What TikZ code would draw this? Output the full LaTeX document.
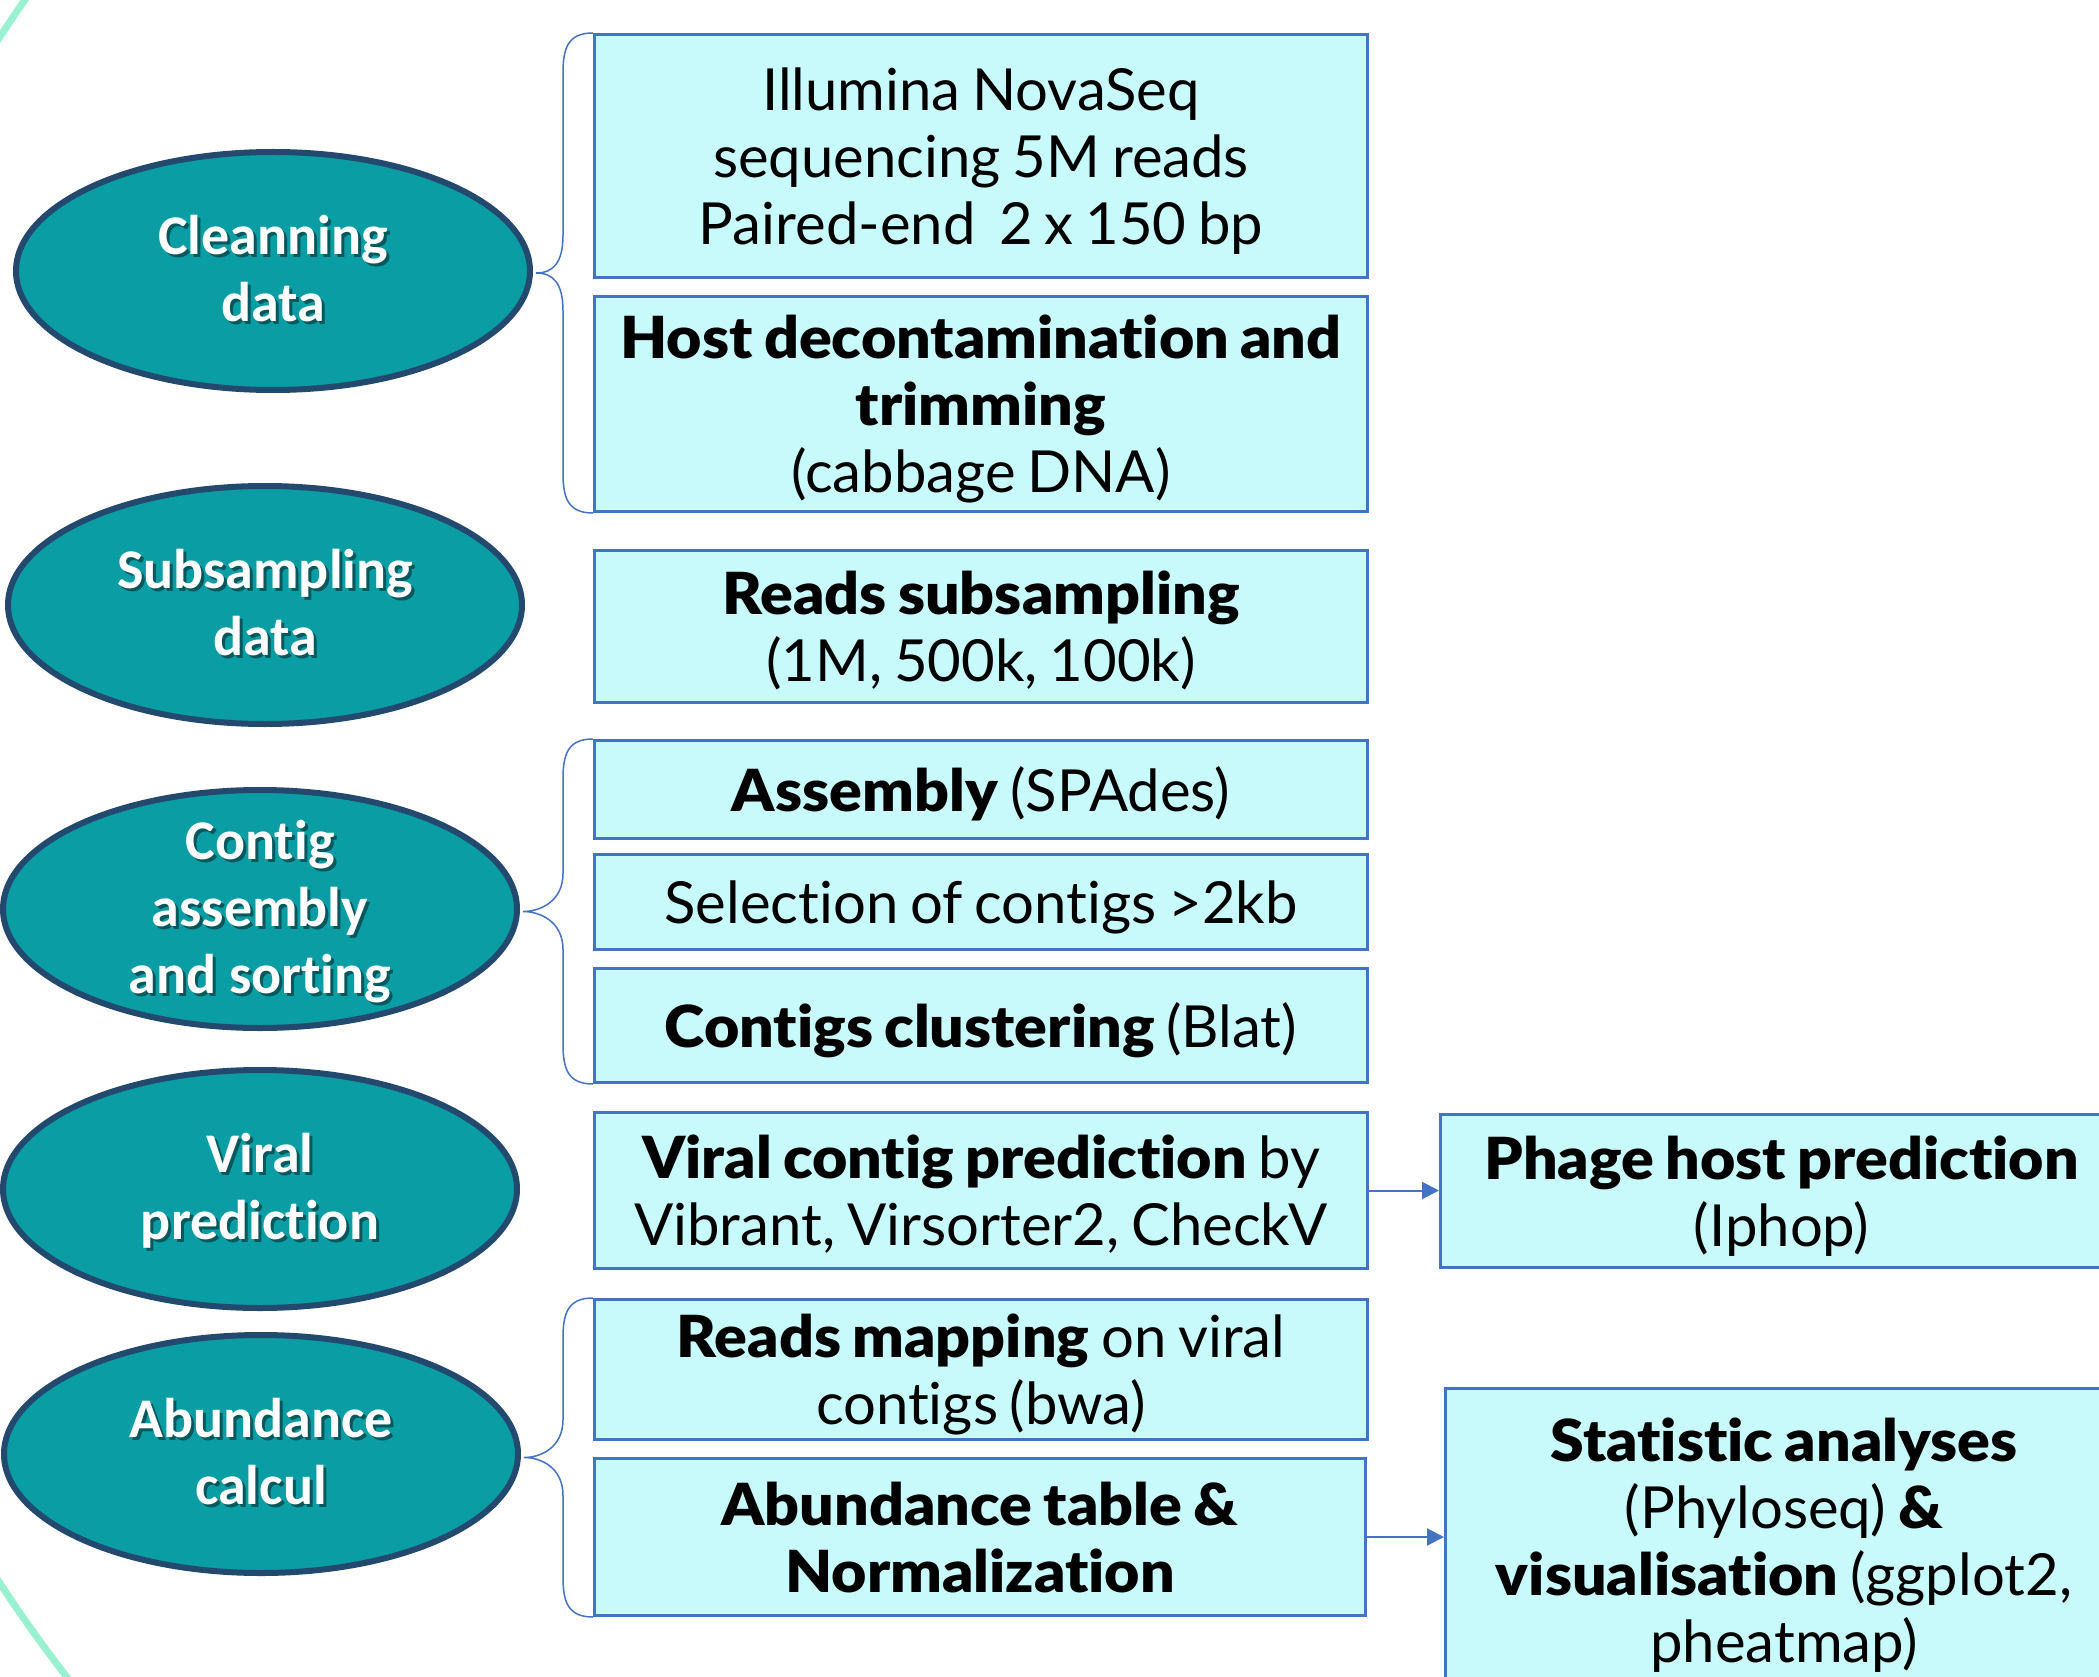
\documentclass[tikz,border=0pt]{standalone}
\usepackage{fontspec}
\setmainfont{Lato}[BoldFont={Lato Black}, BoldFeatures={FakeStretch=1.05}, Ligatures=NoCommon, WordSpace=0.8]
\newfontfamily\ellfont{Carlito}[Ligatures=NoCommon]
\usetikzlibrary{shapes.geometric,arrows.meta,calc}
\definecolor{teal1}{HTML}{0A9DA3}
\definecolor{navy1}{HTML}{234A6E}
\definecolor{boxfill}{HTML}{C8F9FB}
\definecolor{boxline}{HTML}{4472C4}
\definecolor{mint}{HTML}{9AF1D2}
\definecolor{shade}{HTML}{06585C}
\newcommand\elltab[1]{\begin{tabular}{@{}c@{}}#1\end{tabular}}
\newcommand\elltxt[1]{\smash{\raisebox{-10pt}{\makebox[0pt]{\raisebox{-3pt}{\hspace{6pt}\textcolor{shade}{\elltab{#1}}}}\makebox[0pt]{\textcolor{white}{\elltab{#1}}}}}}
\tikzset{
  ell/.style={ellipse, draw=navy1, line width=6pt, fill=teal1, inner sep=0pt,
    minimum width=514pt, minimum height=238pt,
    font=\ellfont\bfseries\fontsize{56}{67}\selectfont},
  stepbox/.style={rectangle, draw=boxline, line width=3pt, fill=boxfill, inner sep=0pt,
    align=center, font=\fontsize{58}{67}\selectfont, text depth=0pt},
  arr/.style={draw=boxline, line width=2pt, -{Triangle[length=17pt,width=17pt]}},
  bracel/.style={draw=boxline, line width=1.5pt},
}
\newcommand\bracedraw[3]{%
  \draw[bracel] let \p1=(#1), \p3=(#3), \p2=(#2) in
    (\p1) .. controls (\x1-25pt,\y1) and (\x1-30pt,\y1-15pt) .. (\x1-30pt,\y1-40pt)
    -- (\x1-30pt,{(\y1+\y3)/2+38pt})
    .. controls (\x1-30pt,{(\y1+\y3)/2+10pt}) and (\x2+20pt,{(\y1+\y3)/2}) .. (\x2+3pt,{(\y1+\y3)/2})
    .. controls (\x2+20pt,{(\y1+\y3)/2}) and (\x1-30pt,{(\y1+\y3)/2-10pt}) .. (\x1-30pt,{(\y1+\y3)/2-38pt})
    -- (\x1-30pt,\y3+40pt)
    .. controls (\x1-30pt,\y3+15pt) and (\x1-25pt,\y3) .. (\p3);}
\begin{document}
\begin{tikzpicture}[x=1pt,y=-1pt]
\useasboundingbox (0,0) rectangle (2099,1677);
\clip (0,0) rectangle (2099,1677);
\fill[white] (0,0) rectangle (2099,1677);
\draw[mint, line width=7pt] (1184,810) circle[radius=1414];

% ellipses
\node[ell] (e1) at (273,271) {\elltxt{Cleanning\\data}};
\node[ell] (e2) at (265,605) {\elltxt{Subsampling\\data}};
\node[ell] (e3) at (260,909) {\elltxt{Contig\\assembly\\and sorting}};
\node[ell] (e4) at (260,1189) {\elltxt{Viral\\prediction}};
\node[ell] (e5) at (261,1454) {\elltxt{Abundance\\calcul}};

% boxes
\node[stepbox, minimum width=773pt, minimum height=243pt] (b1) at (981,156)
  {Illumina NovaSeq\\sequencing 5M reads\\Paired-end\ \ 2 x 150 bp};
\node[stepbox, minimum width=773pt, minimum height=215pt] (b2) at (981,404)
  {\textbf{Host decontamination and}\\\textbf{trimming}\\(cabbage DNA)};
\node[stepbox, minimum width=773pt, minimum height=152pt] (b3) at (981,626.5)
  {\textbf{Reads subsampling}\\(1M, 500k, 100k)};
\node[stepbox, minimum width=773pt, minimum height=98pt] (b4) at (981,789.5)
  {\textbf{Assembly} (SPAdes)};
\node[stepbox, minimum width=773pt, minimum height=95pt] (b5) at (981,902)
  {Selection of contigs >2kb};
\node[stepbox, minimum width=773pt, minimum height=114pt] (b6) at (981,1025.5)
  {\textbf{Contigs clustering} (Blat)};
\node[stepbox, minimum width=773pt, minimum height=156pt] (b7) at (981,1190.5)
  {\textbf{Viral contig prediction} by\\Vibrant, Virsorter2, CheckV};
\node[stepbox, minimum width=682pt, minimum height=153pt] (b8) at (1781.5,1191)
  {\textbf{Phage host prediction}\\(Iphop)};
\node[stepbox, minimum width=773pt, minimum height=140pt] (b9) at (981,1369.5)
  {\textbf{Reads mapping} on viral\\contigs (bwa)};
\node[stepbox, minimum width=771pt, minimum height=157pt] (b10) at (980,1537)
  {\textbf{Abundance table \&}\\\textbf{Normalization}};
\node[stepbox, minimum width=677pt, minimum height=303pt] (b11) at (1784,1540)
  {\textbf{Statistic analyses}\\(Phyloseq) \textbf{\&}\\\textbf{visualisation} (ggplot2,\\pheatmap)};

% arrows
\draw[arr] (b7.east) -- (b7.east -| b8.west);
\draw[arr] (b10.east) -- (b10.east -| b11.west);

% braces
\bracedraw{b1.north west}{e1.east}{b2.south west}
\bracedraw{b4.north west}{e3.east}{b6.south west}
\bracedraw{b9.north west}{e5.east}{b10.south west}
\end{tikzpicture}
\end{document}
